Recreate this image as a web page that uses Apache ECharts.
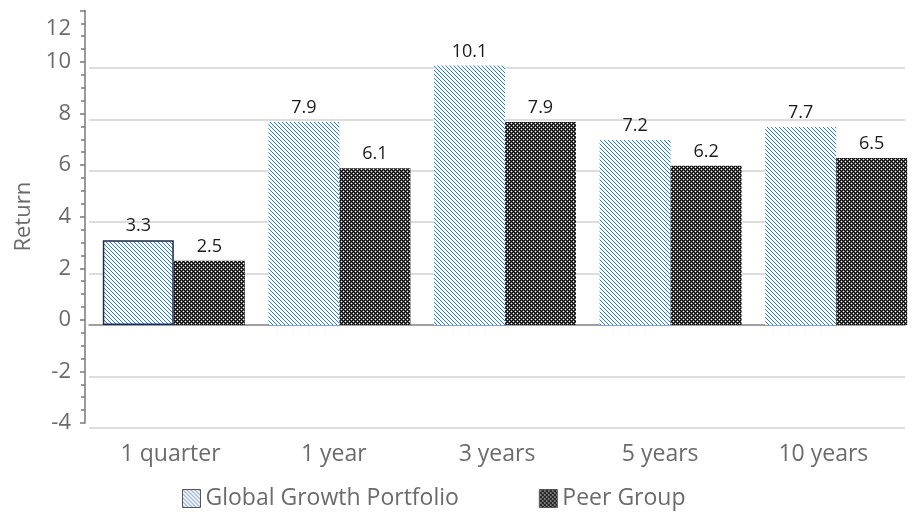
<!DOCTYPE html>
<html>
<head>
<meta charset="utf-8">
<script src="https://cdn.jsdelivr.net/npm/echarts@6/dist/echarts.min.js"></script>
<style>
html,body{margin:0;padding:0;background:#fff;}
#chart{width:919px;height:513px;}
</style>
</head>
<body>
<div id="chart"></div>
<script>
var categories = ['1 quarter', '1 year', '3 years', '5 years', '10 years'];
var seriesNames = ['Global Growth Portfolio', 'Peer Group'];
var globalGrowth = [3.3, 7.9, 10.1, 7.2, 7.7];
var peerGroup = [2.5, 6.1, 7.9, 6.2, 6.5];
var yTicks = { min: -4, max: 12, interval: 2 };

function makeCanvas(w, h, draw) {
  var c = document.createElement('canvas');
  c.width = w; c.height = h;
  draw(c.getContext('2d'));
  return c;
}
var diagPattern = makeCanvas(4, 4, function (ctx) {
  ctx.fillStyle = '#ffffff';
  ctx.fillRect(0, 0, 4, 4);
  ctx.fillStyle = '#4472c4';
  for (var i = 0; i < 4; i++) ctx.fillRect(i, i, 1, 1);
});
var checkPattern = makeCanvas(4, 4, function (ctx) {
  ctx.fillStyle = '#000000';
  ctx.fillRect(0, 0, 4, 4);
  ctx.fillStyle = '#555555';
  [[0,1],[2,1],[1,0],[1,2],[2,3],[0,3],[3,2],[3,0]].forEach(function (p) { ctx.fillRect(p[0], p[1], 1, 1); });
  ctx.fillStyle = '#ffffff';
  ctx.fillRect(1, 1, 1, 1);
  ctx.fillRect(3, 3, 1, 1);
});

var FONT = 'Open Sans';
var GREY = '#6b6b6b';
var chart = echarts.init(document.getElementById('chart'));

var plotTop = 16.6, plotBottom = 85.2;

chart.setOption({
  animation: false,
  backgroundColor: '#ffffff',
  textStyle: { fontFamily: FONT },
  grid: [
    { left: 89, right: 14, top: plotTop, bottom: plotBottom },
    { left: 91, right: -2, top: plotTop, bottom: plotBottom },
    { left: 85, right: 14, top: 10.4, bottom: 90 }
  ],
  legend: {
    left: 177, top: 482,
    itemWidth: 18, itemHeight: 18, itemGap: 80,
    icon: 'rect',
    itemStyle: { borderColor: '#555', borderWidth: 1 },
    textStyle: { fontFamily: FONT, fontSize: 23, color: GREY },
    data: seriesNames
  },
  xAxis: [
    {
      gridIndex: 0, type: 'category', data: categories,
      axisLine: { show: true, lineStyle: { color: '#8c8c8c', width: 1.5 } },
      axisTick: { show: false },
      axisLabel: { fontFamily: FONT, fontSize: 23, color: GREY, margin: 15 }
    },
    {
      gridIndex: 1, type: 'category', data: categories,
      axisLine: { show: false }, axisTick: { show: false }, axisLabel: { show: false }
    },
    {
      gridIndex: 2, type: 'value', show: false
    }
  ],
  yAxis: [
    {
      gridIndex: 0, type: 'value', min: yTicks.min, max: yTicks.max, interval: yTicks.interval,
      axisLine: { show: false }, axisTick: { show: false }, axisLabel: { show: false },
      splitLine: { show: true, lineStyle: { width: 1.5, color: ['#d2d2d2', '#d2d2d2', '#d2d2d2', '#d2d2d2', '#d2d2d2', '#d2d2d2', '#d2d2d2', '#d2d2d2', 'rgba(0,0,0,0)'] } }
    },
    {
      gridIndex: 1, type: 'value', min: yTicks.min, max: yTicks.max, interval: yTicks.interval,
      show: false
    },
    {
      gridIndex: 2, type: 'value', min: yTicks.min, max: yTicks.max, interval: yTicks.interval,
      name: 'Return', nameLocation: 'middle', nameGap: 48,
      nameTextStyle: { fontFamily: FONT, fontSize: 22, color: GREY },
      axisLine: { show: true, lineStyle: { color: '#7a7a7a', width: 1.5 } },
      axisTick: { show: true, inside: false, length: 5, lineStyle: { color: '#7a7a7a', width: 1.5 } },
      minorTick: { show: true, splitNumber: 4, length: 4, lineStyle: { color: '#7a7a7a', width: 1.5 } },
      splitLine: { show: false },
      axisLabel: {
        fontFamily: FONT, fontSize: 22, color: GREY, margin: 14,
        formatter: function (v) { return v === 12 ? '{top|12}' : String(v); },
        rich: { top: { fontFamily: FONT, fontSize: 22, color: GREY, padding: [36, 0, 0, 0] } }
      }
    }
  ],
  series: [
    {
      name: seriesNames[0], type: 'bar', xAxisIndex: 1, yAxisIndex: 1,
      barWidth: 71, barGap: '0%',
      itemStyle: { color: { image: diagPattern, repeat: 'repeat' }, borderColor: '#1f2a44', borderWidth: 0 },
      label: { show: true, position: 'top', distance: 5, fontFamily: FONT, fontSize: 18, color: '#1a1a1a' },
      data: globalGrowth.map(function (v, i) {
        return i === 0 ? { value: v, itemStyle: { borderWidth: 1.5, borderColor: '#1f2a44' } } : v;
      })
    },
    {
      name: seriesNames[1], type: 'bar', xAxisIndex: 1, yAxisIndex: 1,
      barWidth: 71, barGap: '0%',
      itemStyle: { color: { image: checkPattern, repeat: 'repeat' }, borderColor: '#000', borderWidth: 0 },
      label: { show: true, position: 'top', distance: 5, fontFamily: FONT, fontSize: 18, color: '#1a1a1a' },
      data: peerGroup
    }
  ]
});
</script>
</body>
</html>
